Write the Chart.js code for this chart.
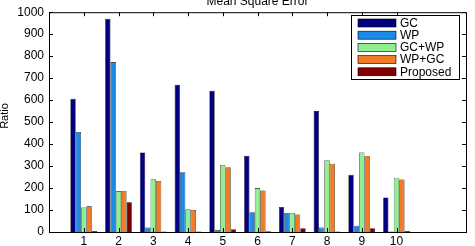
<!DOCTYPE html>
<html>
<head>
<meta charset="utf-8">
<script src="https://cdn.jsdelivr.net/npm/chart.js@4.4.1/dist/chart.umd.min.js"></script>
<style>
  html, body { margin: 0; padding: 0; background: #fff; }
  #wrap { width: 475px; height: 246px; }
</style>
</head>
<body>
<div id="wrap"><canvas id="chart"></canvas></div>
<script>
const categories = [1, 2, 3, 4, 5, 6, 7, 8, 9, 10];
const gc       = [606, 970, 362, 670, 643, 347, 114, 550, 260, 157];
const wp       = [455, 773, 20, 272, 10, 90, 87, 20, 29, 2];
const gcWp     = [112, 185, 240, 104, 305, 200, 87, 327, 362, 247];
const wpGc     = [117, 187, 232, 100, 295, 189, 80, 311, 346, 239];
const proposed = [5, 135, 2, 2, 13, 3, 17, 2, 17, 4];
const yTicks = [0, 100, 200, 300, 400, 500, 600, 700, 800, 900, 1000];

const seriesNames = ['GC', 'WP', 'GC+WP', 'WP+GC', 'Proposed'];
const seriesColors = ['#000080', '#1a8ae8', '#90f090', '#f07c28', '#800000'];
const seriesData = [gc, wp, gcWp, wpGc, proposed];

const FONT = 'Liberation Sans, Arial, sans-serif';

const datasets = seriesData.map((vals, i) => ({
    label: seriesNames[i],
    data: categories.map((c, j) => ({ x: c, y: vals[j] })),
    backgroundColor: seriesColors[i],
    borderColor: '#000',
    borderWidth: 0.6,
    categoryPercentage: 0.77,
    barPercentage: 1
}));

// matlab style box, inward ticks, title, y label and legend
const matlabDeco = {
    id: 'matlabDeco',
    afterDraw(chart) {
        const { ctx, chartArea: a, scales } = chart;
        ctx.save();
        ctx.strokeStyle = '#000';
        ctx.lineWidth = 1;
        ctx.strokeRect(a.left + 0.5, a.top + 0.5, a.right - a.left, a.bottom - a.top);

        ctx.beginPath();
        categories.forEach(c => {
            const x = Math.round(scales.x.getPixelForValue(c)) + 0.5;
            ctx.moveTo(x, a.top); ctx.lineTo(x, a.top + 4);
            ctx.moveTo(x, a.bottom); ctx.lineTo(x, a.bottom - 4);
        });
        yTicks.forEach(v => {
            const y = Math.round(scales.y.getPixelForValue(v)) + 0.5;
            ctx.moveTo(a.left, y); ctx.lineTo(a.left + 4, y);
            ctx.moveTo(a.right, y); ctx.lineTo(a.right - 4, y);
        });
        ctx.stroke();

        // title, cut at the top like the original
        ctx.fillStyle = '#000';
        ctx.font = '12px ' + FONT;
        ctx.textAlign = 'center';
        ctx.textBaseline = 'alphabetic';
        ctx.fillText('Mean Square Error', (a.left + a.right) / 2, 5);

        // y label
        ctx.save();
        ctx.translate(5, 116);
        ctx.rotate(-Math.PI / 2);
        ctx.font = '11px ' + FONT;
        ctx.textBaseline = 'middle';
        ctx.fillText('Ratio', 0, 0);
        ctx.restore();

        // legend box
        const lx = 351, ly = 15, lw = 108, lh = 64;
        ctx.fillStyle = '#fff';
        ctx.fillRect(lx, ly, lw, lh);
        ctx.strokeStyle = '#000';
        ctx.strokeRect(lx + 0.5, ly + 0.5, lw, lh);
        ctx.font = '12px ' + FONT;
        ctx.textAlign = 'left';
        ctx.textBaseline = 'middle';
        seriesNames.forEach((name, i) => {
            const cy = ly + 8 + i * 12.2;
            ctx.fillStyle = seriesColors[i];
            ctx.fillRect(358, cy - 4, 38, 8);
            ctx.strokeStyle = '#000';
            ctx.lineWidth = 0.6;
            ctx.strokeRect(358, cy - 4, 38, 8);
            ctx.fillStyle = '#000';
            ctx.fillText(name, 400, cy + 0.5);
        });
        ctx.restore();
    }
};

new Chart(document.getElementById('chart'), {
    type: 'bar',
    data: { datasets: datasets },
    options: {
        responsive: true,
        maintainAspectRatio: false,
        animation: false,
        layout: { padding: { top: 10, right: 9, left: 0, bottom: 0 } },
        plugins: {
            legend: { display: false },
            tooltip: { enabled: false }
        },
        scales: {
            x: {
                type: 'linear',
                offset: false,
                min: 0,
                max: 12,
                grid: { display: false, drawTicks: false },
                border: { display: false },
                afterFit(scale) { scale.height = 14; },
                ticks: {
                    stepSize: 1,
                    autoSkip: false,
                    maxRotation: 0,
                    padding: 2,
                    color: '#000',
                    font: { family: FONT, size: 12 },
                    callback: v => (v >= 1 && v <= 10) ? String(v) : ''
                }
            },
            y: {
                min: 0,
                max: 1000,
                grid: { display: false, drawTicks: false },
                border: { display: false },
                afterFit(scale) { scale.width = 49; },
                afterBuildTicks(scale) { scale.ticks = yTicks.map(v => ({ value: v })); },
                ticks: {
                    padding: 5,
                    color: '#000',
                    font: { family: FONT, size: 12 },
                    callback: v => String(v)
                }
            }
        }
    },
    plugins: [matlabDeco]
});
</script>
</body>
</html>
